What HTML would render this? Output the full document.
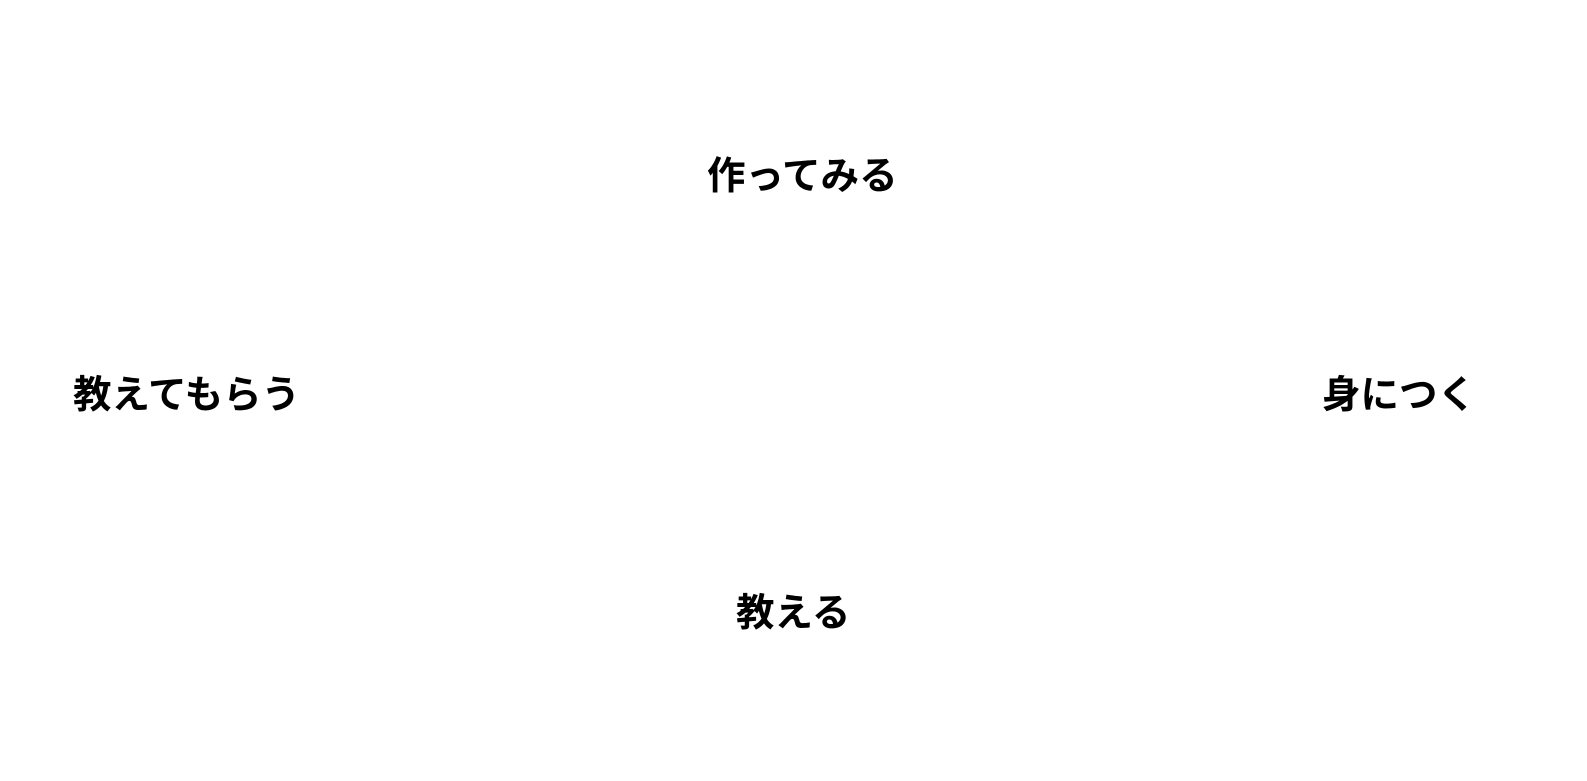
<!DOCTYPE html>
<html>
<head>
<meta charset="utf-8">
<style>
html,body{margin:0;padding:0;background:#fff;}
body{width:1587px;height:781px;position:relative;overflow:hidden;}
.lbl{position:absolute;font-family:"Liberation Sans","Noto Sans CJK JP",sans-serif;font-weight:700;font-size:38.5px;line-height:1;color:#000;white-space:nowrap;transform:translateY(-50%);}
</style>
</head>
<body>
<div class="lbl" style="left:707px;top:177px;">作ってみる</div>
<div class="lbl" style="left:73px;top:396px;">教えてもらう</div>
<div class="lbl" style="left:1322px;top:396px;">身につく</div>
<div class="lbl" style="left:736px;top:614px;">教える</div>
</body>
</html>
